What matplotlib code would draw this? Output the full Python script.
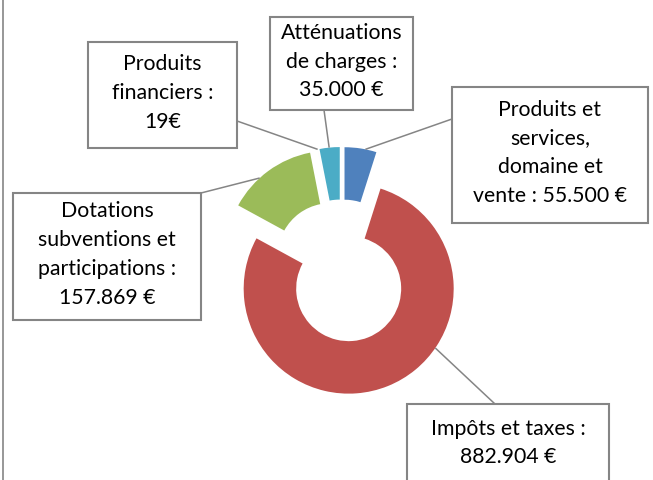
import numpy as np
import matplotlib.pyplot as plt
from matplotlib.patches import Rectangle


W, H = 653, 481 # figure size in pixels; the axes use pixel coordinates.

categories = ['Produits et services, domaine et vente', 'Impôts et taxes',
              'Dotations subventions et participations', 'Produits financiers',
              'Atténuations de charges']
values = [55500, 882904, 157869, 19, 35000]
labels = ['Produits et\nservices,\ndomaine et\nvente : 55.500 €',
          'Impôts et taxes :\n882.904 €',
          'Dotations\nsubventions et\nparticipations :\n157.869 €',
          'Produits\nfinanciers :\n19€',
          'Atténuations\nde charges :\n35.000 €']
colors = ['#4F81BD', '#C0504D', '#9BBB59', '#8064A2', '#4BACC6']

# label boxes (x0, y0, x1, y1), leader anchor on the box, and where the
# leader meets the slice (fraction along the slice, clockwise).
boxes = [(452, 88, 648, 224), (407, 405, 609, 487), (13, 194, 201, 321),
         (88, 43, 237, 149), (270, 18, 413, 111)]
anchors = [(452, 120), (495, 405), (201, 194), (237, 122), (324, 111)]
leader_frac = [0.65, 0.38, 0.38, 0.5, 0.48]

CENTER = (341.6, 272)
RADIUS = 105
HOLE = 52.5
EXPLODE = 19
GREY = '#858585'
TEXT_DY = -3 # Excel sets the text a little above the box's middle.

fig = plt.figure(figsize=(W / 100, H / 100), dpi=100)
ax = fig.add_axes([0, 0, 1, 1])

wedges, _ = ax.pie(values, colors=colors, startangle=-90, counterclock=True,
                   radius=RADIUS, center=CENTER, explode=[EXPLODE] * len(values),
                   wedgeprops=dict(width=HOLE, edgecolor='none'))
ax.set_xlim(0, W)
ax.set_ylim(H, 0) # y down, so the pie still runs clockwise from the top.
ax.set_axis_off()

for w, lab, (x0, y0, x1, y1), (ax_x, ax_y), f in zip(wedges, labels, boxes,
                                                     anchors, leader_frac):
    t = np.radians(w.theta1 + f * (w.theta2 - w.theta1))
    cx, cy = w.center
    ax.plot([ax_x, cx + w.r * np.cos(t)], [ax_y, cy + w.r * np.sin(t)],
            color=GREY, lw=1.1, solid_capstyle='butt', zorder=1)
    ax.add_patch(Rectangle((x0, y0), x1 - x0, y1 - y0, facecolor='white',
                           edgecolor=GREY, lw=1.5, zorder=3))
    ax.text((x0 + x1) / 2, (y0 + y1) / 2 + TEXT_DY, lab, ha='center',
            va='center', family='Lato', fontsize=15.3, linespacing=1.56,
            zorder=4)

# the chart frame, only its left side is in the picture.
ax.plot([3, 3], [0, H], color=GREY, lw=1.2)

fig.savefig('out.png', dpi=100)
